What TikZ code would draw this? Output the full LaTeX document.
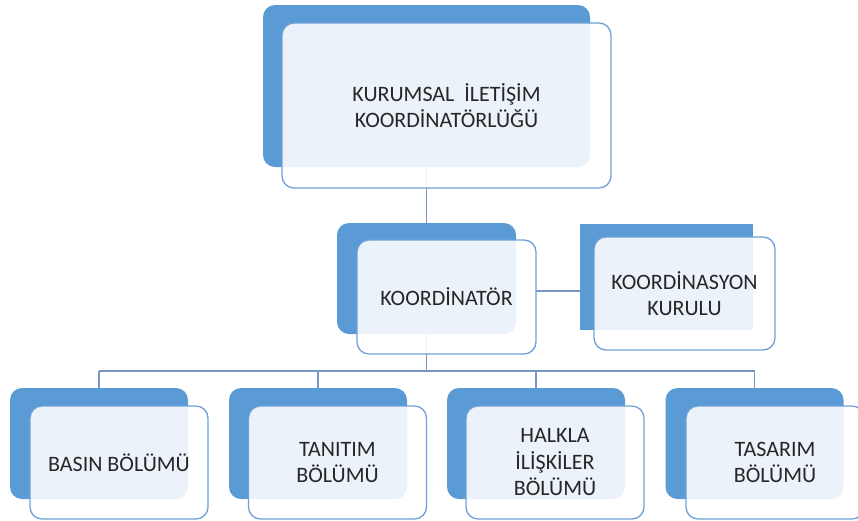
\documentclass[tikz,border=0pt]{standalone}
\usepackage{fontspec}
\setmainfont{Carlito}
\usetikzlibrary{positioning}
\pgfdeclarelayer{background}
\pgfsetlayers{background,main}
\definecolor{backblue}{RGB}{91,155,213}
\definecolor{edgeblue}{RGB}{111,160,216}
\definecolor{linkblue}{RGB}{120,150,195}
\definecolor{textgray}{RGB}{38,38,38}

\begin{document}
\begin{tikzpicture}[x=1pt,y=-1pt,
    back/.style={fill=backblue,rounded corners=12pt,inner sep=0pt},
    front/.style={draw=edgeblue,line width=1.3pt,fill=white,fill opacity=0.88,
      text opacity=1,rounded corners=12pt,inner sep=0pt,align=center,
      text=textgray,font=\fontsize{22}{26.5}\selectfont},
    link/.style={draw=linkblue,line width=1.5pt}]
  \useasboundingbox (0,0) rectangle (858,520);
  % back plates
  \node[back,minimum width=327pt,minimum height=162pt] (top) at (426.5,86) {};
  \node[back,minimum width=179pt,minimum height=111pt] (coord) at (426.5,278.5) {};
  \node[back,rounded corners=0pt,minimum width=173pt,minimum height=106pt] (kurul) at (666.5,277) {};
  \node[back,minimum width=178pt,minimum height=111pt] (basin) at (99,443.5) {};
  \node[back,minimum width=178pt,minimum height=111pt] (tanitim) at (318,443.5) {};
  \node[back,minimum width=178pt,minimum height=111pt] (halkla) at (536,443.5) {};
  \node[back,minimum width=178pt,minimum height=111pt] (tasarim) at (754.5,443.5) {};
  % front cards
  \node[front,minimum width=329pt,minimum height=165pt] (topf) at (446.5,105.5)
    {KURUMSAL\ \ İLETİŞİM\\KOORDİNATÖRLÜĞÜ};
  \node[front,minimum width=179pt,minimum height=114pt] (coordf) at (446.5,297)
    {KOORDİNATÖR};
  \node[front,minimum width=181pt,minimum height=113pt] (kurulf) at (684.5,293.5)
    {KOORDİNASYON\\KURULU};
  \node[front,minimum width=178pt,minimum height=113pt] (basinf) at (119,462.5)
    {BASIN BÖLÜMÜ};
  \node[front,minimum width=178pt,minimum height=113pt] (tanitimf) at (337.5,462.5)
    {TANITIM\\BÖLÜMÜ};
  \node[front,minimum width=178pt,minimum height=113pt] (halklaf) at (555,462.5)
    {HALKLA\\İLİŞKİLER\\BÖLÜMÜ};
  \node[front,minimum width=178pt,minimum height=113pt] (tasarimf) at (775,462.5)
    {TASARIM\\BÖLÜMÜ};
  % connectors
  \coordinate (side) at (536,291);
  \coordinate (bus) at (426.5,371);
  \begin{pgfonlayer}{background}
    \draw[link] (top.south) -- (coord.north);
    \draw[link] (side) -- (side -| kurul.west);
    \draw[link] (coord.south) -- (bus);
    \draw[link] (basin.north |- bus) -- (tasarim.north |- bus);
    \foreach \n in {basin,tanitim,halkla,tasarim}
      \draw[link] (\n.north |- bus) -- (\n.north);
  \end{pgfonlayer}
\end{tikzpicture}
\end{document}
